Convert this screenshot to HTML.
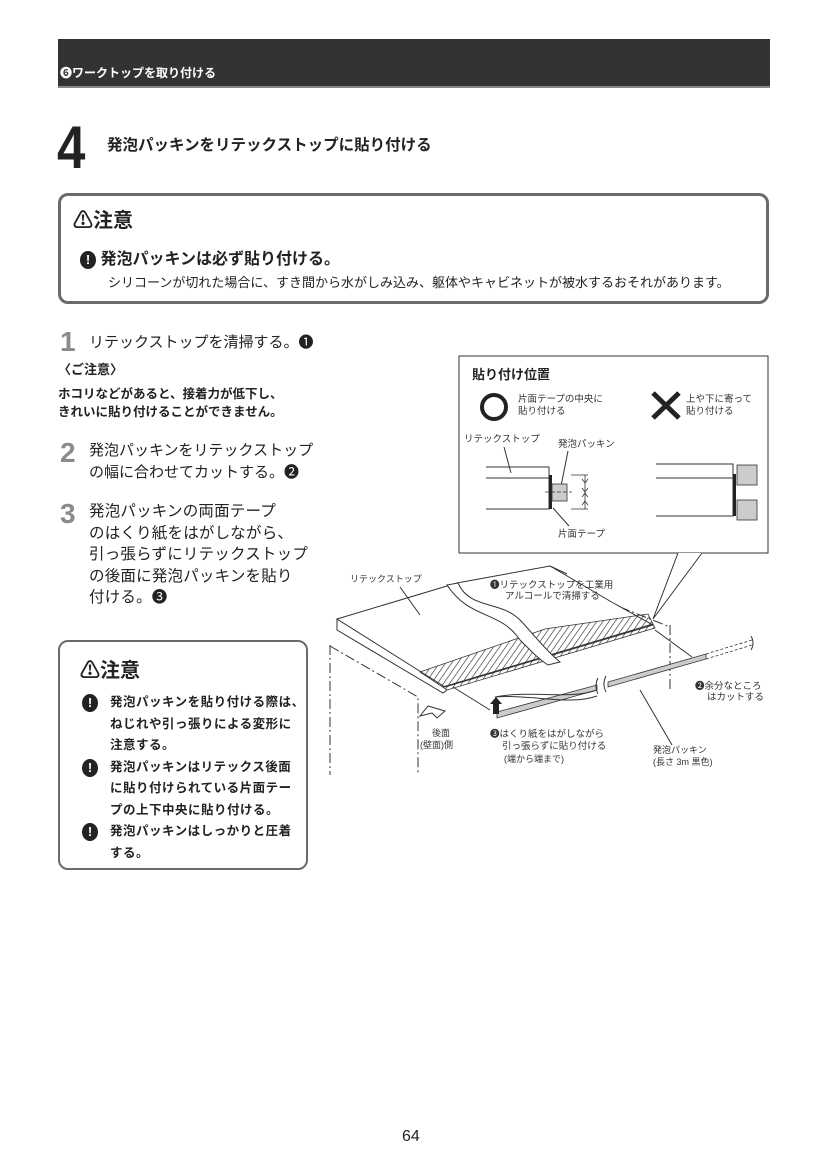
<!DOCTYPE html>
<html><head><meta charset="utf-8">
<style>
body{margin:0;background:#fff;}
.pg{position:relative;width:827px;height:1169px;overflow:hidden;font-family:"Liberation Sans","Noto Sans CJK JP",sans-serif;color:#222;}
.a{position:absolute;white-space:nowrap;}
.bar{position:absolute;left:58px;top:39px;width:712px;height:47px;background:#333;border-bottom:2px solid #888;}
.box{position:absolute;border:3px solid #6b6b6b;border-radius:10px;box-sizing:border-box;}
.ex{display:inline-block;width:16px;height:18px;border-radius:50%;background:#222;color:#fff;font-size:13px;line-height:18px;text-align:center;font-weight:bold;vertical-align:middle;}
.n{color:#8a8a8a;font-weight:bold;font-size:28px;}
.s{font-size:15px;}
.b{font-weight:bold;}
</style></head><body><div class="pg">
<div class="bar"></div>
<div class="a b" style="left:60px;top:64px;color:#fff;font-size:12px;">❻ワークトップを取り付ける</div>
<div class="a b" style="left:57px;top:118px;font-size:60px;line-height:60px;color:#222;transform:scaleX(0.85);transform-origin:left;">4</div>
<div class="a b" style="left:107px;top:133px;font-size:15.5px;">発泡パッキンをリテックストップに貼り付ける</div>

<div class="box" style="left:58px;top:193px;width:711px;height:111px;"></div>
<div class="a b" style="left:73px;top:204px;font-size:20px;">⚠注意</div>
<div class="a b" style="left:80px;top:245px;font-size:16px;"><span class="ex">!</span> 発泡パッキンは必ず貼り付ける。</div>
<div class="a" style="left:108px;top:272px;font-size:13px;">シリコーンが切れた場合に、すき間から水がしみ込み、躯体やキャビネットが被水するおそれがあります。</div>

<div class="a n" style="left:60px;top:326px;">1</div>
<div class="a s" style="left:89px;top:331px;">リテックストップを清掃する。❶</div>
<div class="a b" style="left:58px;top:359px;font-size:13px;">〈ご注意〉</div>
<div class="a b" style="left:58px;top:385px;font-size:12.5px;line-height:18px;">ホコリなどがあると、接着力が低下し、<br>きれいに貼り付けることができません。</div>
<div class="a n" style="left:60px;top:437px;">2</div>
<div class="a s" style="left:89px;top:440px;line-height:22px;">発泡パッキンをリテックストップ<br>の幅に合わせてカットする。❷</div>
<div class="a n" style="left:60px;top:498px;">3</div>
<div class="a" style="left:89px;top:501px;font-size:15.5px;line-height:21.5px;letter-spacing:0.2px;">発泡パッキンの両面テープ<br>のはくり紙をはがしながら、<br>引っ張らずにリテックストップ<br>の後面に発泡パッキンを貼り<br>付ける。❸</div>

<div class="box" style="left:58px;top:640px;width:250px;height:230px;border-width:2.5px;"></div>
<div class="a b" style="left:80px;top:654px;font-size:20px;">⚠注意</div>
<div class="a b" style="left:82px;top:694px;font-size:12.5px;"><span class="ex">!</span></div>
<div class="a b" style="left:82px;top:759px;font-size:12.5px;"><span class="ex">!</span></div>
<div class="a b" style="left:82px;top:823px;font-size:12.5px;"><span class="ex">!</span></div>
<div class="a b" style="left:110px;top:692px;font-size:12.5px;line-height:21.5px;letter-spacing:0.5px;">発泡パッキンを貼り付ける際は、<br>ねじれや引っ張りによる変形に<br>注意する。<br>発泡パッキンはリテックス後面<br>に貼り付けられている片面テー<br>プの上下中央に貼り付ける。<br>発泡パッキンはしっかりと圧着<br>する。</div>

<svg class="a" style="left:0;top:0;" width="827" height="1169" viewBox="0 0 827 1169">
<defs><pattern id="h" width="5" height="5" patternUnits="userSpaceOnUse" patternTransform="rotate(35)"><line x1="0" y1="0" x2="0" y2="5" stroke="#222" stroke-width="1.2"/></pattern></defs>
<g font-family="Liberation Sans,Noto Sans CJK JP,sans-serif" fill="#333">
<rect x="459" y="356" width="309" height="197" fill="#fff" stroke="#333" stroke-width="1"/>
<text x="472" y="379" font-size="13" font-weight="bold" fill="#222">貼り付け位置</text>
<circle cx="494" cy="407" r="12" fill="none" stroke="#222" stroke-width="4"/>
<text x="518" y="402" font-size="9.5">片面テープの中央に</text><text x="518" y="414" font-size="9.5">貼り付ける</text>
<path d="M653 393 L679 418 M679 393 L653 418" stroke="#222" stroke-width="5"/>
<text x="686" y="402" font-size="9.5">上や下に寄って</text><text x="686" y="414" font-size="9.5">貼り付ける</text>
<text x="464" y="442" font-size="9.5">リテックストップ</text>
<text x="558" y="447" font-size="9.5">発泡パッキン</text>
<path d="M504 447 L511 473 M568 451 L561 486 M553 508 L569 526" stroke="#333" fill="none"/>
<path d="M486 467 H549 V509 H486 M486 478 H549" stroke="#333" fill="none"/>
<rect x="549" y="475" width="3" height="34" fill="#222"/>
<rect x="552" y="484" width="15" height="17" fill="#ccc" stroke="#333" stroke-width="0.8"/>
<path d="M545 492 H572" stroke="#333" stroke-dasharray="4 2" stroke-width="0.7"/>
<path d="M571 475 H588 M571 509 H588 M585 475 V509" stroke="#333" stroke-width="0.8"/>
<path d="M582 479 l3 4 3-4 M582 488 l3 4 3-4 M582 497 l3-4 3 4 M582 505 l3-4 3 4" stroke="#333" stroke-width="0.8" fill="none"/>
<text x="558" y="537" font-size="9.5">片面テープ</text>
<path d="M656 464 H733 V516 H656 M656 478 H733" stroke="#333" fill="none"/>
<rect x="733" y="474" width="3" height="42" fill="#222"/>
<rect x="737" y="465" width="20" height="20" fill="#ccc" stroke="#333" stroke-width="0.8"/>
<rect x="737" y="500" width="20" height="20" fill="#ccc" stroke="#333" stroke-width="0.8"/>
<path d="M678 553 L653 619 L702 553" stroke="#333" fill="#fff"/>

<path d="M330 645 V775 M330 646 L418 697 V775 M670 625 V690 M620 607 L670 627" stroke="#333" stroke-dasharray="10 3 2 3" fill="none"/>
<polygon points="337,619 457,583 550,566 615,604 653,625 445,687" fill="#fff" stroke="#333"/>
<polygon points="420,672 545,629 648,614 655,628 447,690" fill="url(#h)" stroke="#333" stroke-width="0.8"/>
<path d="M337 619 L337 630 L443 693 L447 690 M443 687 L653 624" stroke="#333" fill="none"/>
<path d="M447 585 C470 620 500 610 520 640 C535 655 540 660 548 665 L560 662 C545 650 530 630 520 620 C500 600 470 610 458 583 Z" fill="#fff" stroke="#333"/>
<path d="M400 587 L420 615 M550 566 L567 574 M655 630 L692 657 M490 710 L453 687 M640 690 L672 745" stroke="#333" fill="none"/>
<polygon points="497,712 597,685 597,690 497,718" fill="#ccc" stroke="#333" stroke-width="0.8"/>
<polygon points="608,682 706,654 706,659 608,687" fill="#ccc" stroke="#333" stroke-width="0.8"/>
<path d="M706 654 L752 640 M706 659 L752 645" stroke="#333" stroke-dasharray="3 2" stroke-width="0.8"/>
<path d="M598 678 q-4 8 0 16 M606 676 q-4 8 0 16 M751 636 q4 7 0 14" stroke="#333" fill="none"/>
<path d="M495 697 C530 690 570 700 597 690 M495 697 C530 694 570 706 597 696" stroke="#333" fill="none"/>
<path d="M493 714 V704 H490 L496 697 L502 704 H499 V714 Z" fill="#222"/>
<path d="M428 706 L445 711 L437 718 L432 713 L420 716 Z" fill="#fff" stroke="#333"/>
<text x="350" y="582" font-size="9">リテックストップ</text>
<text x="490" y="588" font-size="9.5">❶リテックストップを工業用</text>
<text x="505" y="599" font-size="9.5">アルコールで清掃する</text>
<text x="695" y="689" font-size="9.5">❷余分なところ</text>
<text x="707" y="700" font-size="9.5">はカットする</text>
<text x="432" y="736" font-size="9">後面</text>
<text x="420" y="748" font-size="9">(壁面)側</text>
<text x="490" y="737" font-size="9.5">❸はくり紙をはがしながら</text>
<text x="502" y="749" font-size="9.5">引っ張らずに貼り付ける</text>
<text x="504" y="762" font-size="9">(端から端まで)</text>
<text x="653" y="753" font-size="9">発泡パッキン</text>
<text x="653" y="765" font-size="9">(長さ 3m 黒色)</text>
</g>
</svg>
<div class="a" style="left:402px;top:1128px;font-size:16px;">64</div>
</div></body></html>
